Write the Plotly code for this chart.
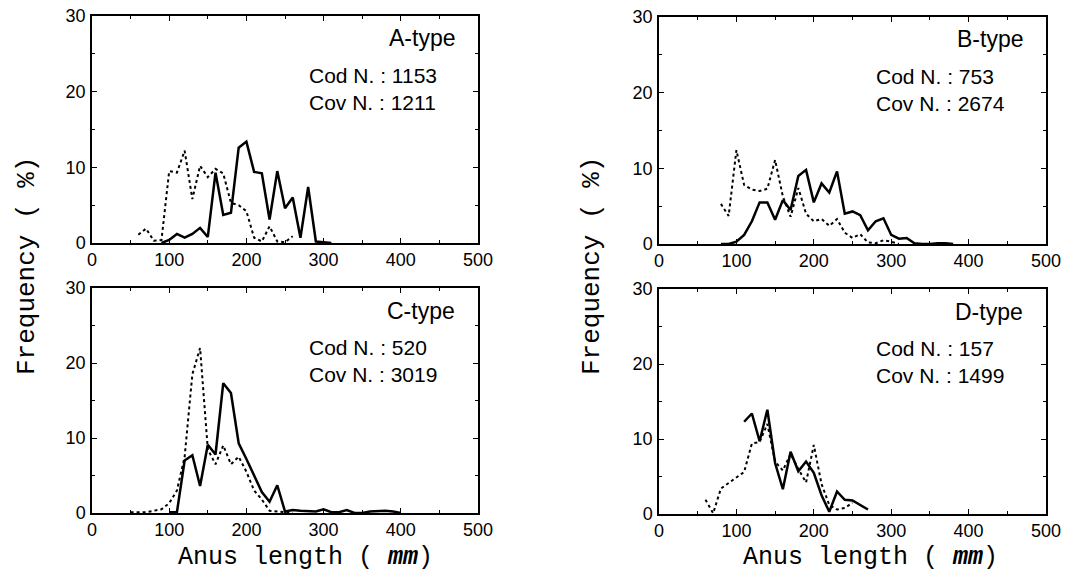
import plotly.graph_objects as go

# ---------------- data (Anus length in mm, frequency in %) ----------------
A_cod_x = list(range(90, 320, 10))
A_cod_y = [0, 0.4, 1.2, 0.7, 1.2, 2.0, 0.8, 9.3, 3.7, 4.0, 12.6, 13.4, 9.4, 9.2, 3.1,
           9.5, 4.6, 6.0, 0.7, 7.4, 0.2, 0.1, 0.0]
A_cov_x = list(range(60, 270, 10))
A_cov_y = [1.1, 1.9, 0.3, 0.4, 9.5, 9.3, 12.2, 5.8, 10.2, 8.7, 9.8, 9.2, 5.3, 5.0, 4.2,
           0.7, 0.2, 2.2, 0.2, 0.1, 0.9]

B_cod_x = list(range(80, 390, 10))
B_cod_y = [0, 0, 0.3, 1.2, 3.0, 5.5, 5.5, 3.2, 5.8, 4.5, 9.0, 9.8, 5.5, 8.0, 6.8, 9.6,
           4.0, 4.3, 3.8, 1.8, 3.0, 3.4, 1.2, 0.7, 0.8, 0.1, 0, 0, 0.1, 0.1, 0]
B_cov_x = list(range(80, 320, 10))
B_cov_y = [5.3, 3.7, 12.4, 7.8, 7.2, 7.0, 7.3, 11.1, 6.3, 3.6, 7.4, 4.0, 3.0, 3.3, 2.4,
           3.3, 1.5, 0.8, 1.3, 0.2, 0.1, 0.5, 0.3, 0.0]

C_cod_x = list(range(100, 410, 10))
C_cod_y = [0.1, 0.1, 7.0, 7.7, 3.6, 9.1, 7.8, 17.3, 16.0, 9.3, 7.2, 5.0, 2.8, 1.5, 3.7,
           0.2, 0.4, 0.3, 0.2, 0.2, 0.5, 0.1, 0.1, 0.4, 0, 0, 0.2, 0.3, 0.3, 0.2, 0]
C_cov_x = list(range(50, 270, 10))
C_cov_y = [0.1, 0.1, 0.1, 0.3, 0.5, 1.3, 3.0, 7.5, 18.5, 22.0, 8.5, 6.5, 9.0, 6.5, 7.5,
           5.5, 3.0, 1.8, 0.3, 0.2, 0.1, 0]

D_cod_x = list(range(110, 280, 10))
D_cod_y = [12.3, 13.4, 9.7, 13.9, 6.8, 3.3, 8.3, 5.7, 7.0, 5.5, 2.5, 0.3, 3.0, 1.9, 1.8,
           1.2, 0.6]
D_cov_x = list(range(60, 260, 10))
D_cov_y = [1.9, 0.1, 3.4, 4.1, 4.8, 5.6, 9.4, 9.6, 12.0, 7.0, 5.8, 8.0, 6.0, 4.2, 9.2,
           4.0, 1.2, 0.6, 0.8, 1.5]

panel_names = ["A-type", "B-type", "C-type", "D-type"]
cod_counts = [1153, 753, 520, 157]
cov_counts = [1211, 2674, 3019, 1499]

x_ticks = [0, 100, 200, 300, 400, 500]
y_ticks = [0, 10, 20, 30]

series = [(A_cod_x, A_cod_y, A_cov_x, A_cov_y),
          (B_cod_x, B_cod_y, B_cov_x, B_cov_y),
          (C_cod_x, C_cod_y, C_cov_x, C_cov_y),
          (D_cod_x, D_cod_y, D_cov_x, D_cov_y)]

# ---------------- layout geometry (window pixels) ----------------
W, H = 1067, 578


def px(v):
    return v / W


def py(v):
    return 1 - v / H


boxes = [(92, 478, 16, 243), (659, 1046, 17, 244), (92, 478, 288, 513), (659, 1046, 289, 514)]

fig = go.Figure()
sans = "Liberation Sans, Arial"
tickfont = dict(family=sans, size=18, color="black")

for i, ((cx, cy, vx, vy), (x0, x1, y0, y1)) in enumerate(zip(series, boxes)):
    n = "" if i == 0 else str(i + 1)
    xa, ya = "x" + n, "y" + n
    fig.add_trace(go.Scatter(x=vx, y=vy, mode="lines", xaxis=xa, yaxis=ya,
                             line=dict(color="black", width=2, dash="dot"),
                             showlegend=False, hoverinfo="skip"))
    fig.add_trace(go.Scatter(x=cx, y=cy, mode="lines", xaxis=xa, yaxis=ya,
                             line=dict(color="black", width=2.5),
                             showlegend=False, hoverinfo="skip"))
    axcommon = dict(showline=True, linecolor="black", linewidth=1.5, mirror="ticks",
                    ticks="inside", ticklen=5, tickwidth=1.2, tickcolor="black",
                    showgrid=False, zeroline=False, tickfont=tickfont, automargin=False,
                    ticklabeloverflow="allow")
    fig.layout["xaxis" + n] = dict(domain=[px(x0), px(x1)], anchor=ya, range=[0, 500],
                                   tickvals=x_ticks, ticktext=[str(t) for t in x_ticks],
                                   ticklabelstandoff=0,
                                   minor=dict(dtick=50, ticks="inside", ticklen=3,
                                              tickcolor="black"),
                                   **axcommon)
    fig.layout["yaxis" + n] = dict(domain=[py(y1), py(y0)], anchor=xa, range=[0, 30],
                                   tickvals=y_ticks, ticktext=[str(t) for t in y_ticks],
                                   ticklabelstandoff=1,
                                   minor=dict(dtick=5, ticks="inside", ticklen=3,
                                              tickcolor="black"),
                                   **axcommon)
    # panel name, right-aligned near top-right corner
    fig.add_annotation(x=px(x1 - 21), y=py(y0 + 22.5), xref="paper", yref="paper",
                       text=panel_names[i], showarrow=False, xanchor="right", yanchor="middle",
                       font=dict(family=sans, size=23, color="black"))
    fig.add_annotation(x=px(x0 + 215), y=py(y0 + 73), xref="paper", yref="paper",
                       text=f"Cod N. : {cod_counts[i]}<br>Cov N. : {cov_counts[i]}",
                       showarrow=False, xanchor="left", yanchor="middle", align="left",
                       font=dict(family=sans, size=21, color="black"))

title_font = dict(family="Liberation Mono, Courier New", size=26, color="black")
for xp in [27, 592]:
    fig.add_annotation(x=px(xp), y=py(266), xref="paper", yref="paper",
                       text="Frequency ( %)", textangle=-90, showarrow=False,
                       xanchor="center", yanchor="middle", font=title_font)
for xp in [305, 870]:
    fig.add_annotation(x=px(xp), y=py(557), xref="paper", yref="paper",
                       text="Anus length ( <b><i>mm</i></b>)", showarrow=False,
                       xanchor="center", yanchor="middle",
                       font=dict(family="Liberation Mono, Courier New", size=25, color="black"))

fig.update_layout(width=W, height=H, margin=dict(l=0, r=0, t=0, b=0, autoexpand=False),
                  paper_bgcolor="white", plot_bgcolor="white")

fig.write_html("out.html",
               config={"displayModeBar": False},
               post_script="document.body.style.margin='0';"
                           "document.body.style.overflow='hidden';")
